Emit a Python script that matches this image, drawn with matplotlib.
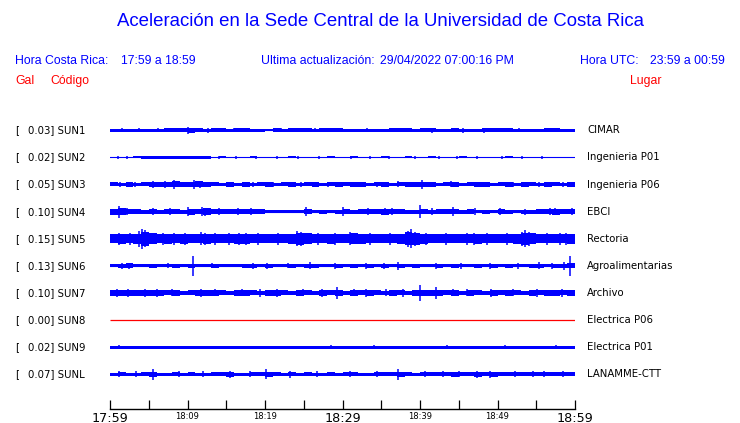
import numpy as np
import matplotlib
matplotlib.use("Agg")
import matplotlib.pyplot as plt
from matplotlib.transforms import blended_transform_factory

# ---------------- data ----------------
codes = ["SUN1", "SUN2", "SUN3", "SUN4", "SUN5", "SUN6", "SUN7", "SUN8", "SUN9", "SUNL"]
peak_gal = [0.03, 0.02, 0.05, 0.10, 0.15, 0.13, 0.10, 0.00, 0.02, 0.07]
places = ["CIMAR", "Ingenieria P01", "Ingenieria P06", "EBCI", "Rectoria",
          "Agroalimentarias", "Archivo", "Electrica P06", "Electrica P01", "LANAMME-CTT"]

# minutes after 17:59 ; tick labels every 5 min
tick_minutes = list(range(0, 61, 5))
tick_labels = ["17:59", "", "18:09", "", "18:19", "", "18:29", "", "18:39", "", "18:49", "", "18:59"]
big_labels = ["17:59", "18:29", "18:59"]

# per-minute envelope (half amplitude, display px)
env_sun1 = [1.4, 1.3, 1.7, 1.5, 1.7, 1.6, 1.5, 1.8, 1.8, 1.8, 2.3, 1.8, 1.7, 1.8, 1.8, 1.7, 1.8, 1.8,
            1.3, 1.4, 1.2, 1.8, 1.7, 1.8, 1.8, 1.8, 1.7, 1.8, 1.8, 1.8, 1.3, 1.5, 1.4, 1.6, 1.3, 1.7,
            1.8, 1.8, 1.8, 1.7, 1.8, 1.8, 1.7, 1.6, 1.8, 1.4, 1.5, 1.3, 1.8, 1.8, 1.8, 1.8, 1.7, 1.4,
            1.3, 1.5, 1.8, 1.8, 1.4, 1.7]
env_sun2 = [0.5, 0.8, 0.6, 0.9, 1.3, 1.4, 1.3, 1.4, 1.4, 1.4, 1.4, 1.4, 1.3, 0.5, 0.9, 0.6, 0.8, 0.5,
            0.9, 0.7, 0.5, 0.8, 0.6, 0.9, 0.5, 0.7, 0.8, 0.5, 0.9, 0.6, 0.7, 0.9, 0.6, 0.8, 0.5, 0.9,
            0.6, 0.7, 0.9, 0.5, 0.8, 0.9, 0.6, 0.8, 0.5, 0.9, 0.5, 0.7, 0.8, 0.6, 0.5, 0.9, 0.6, 0.8,
            0.7, 0.5, 0.8, 0.5, 0.5, 0.5]
env_sun3 = [2.0, 1.8, 2.1, 1.8, 2.0, 2.6, 2.8, 2.5, 3.0, 2.7, 2.6, 3.0, 2.5, 2.0, 1.9, 2.2, 1.9, 2.1,
            1.9, 2.0, 2.2, 1.9, 2.0, 2.1, 1.9, 2.0, 2.2, 1.9, 2.0, 2.1, 2.0, 2.1, 2.2, 1.9, 2.0, 2.2,
            1.9, 2.0, 2.1, 2.3, 2.6, 2.1, 1.9, 2.0, 2.2, 1.9, 2.0, 2.1, 2.2, 1.9, 2.0, 2.1, 1.9, 2.2,
            2.0, 1.9, 2.1, 2.0, 1.9, 2.1]
env_sun4 = [3.0, 3.2, 2.8, 2.2, 1.9, 2.4, 2.0, 2.6, 2.2, 2.0, 3.0, 2.4, 3.2, 2.6, 2.4, 2.8, 2.3, 2.6,
            2.2, 2.5, 1.7, 1.7, 1.8, 1.7, 1.7, 2.6, 1.8, 2.0, 1.7, 1.9, 2.8, 1.9, 2.1, 2.6, 2.8, 2.9,
            2.7, 2.4, 1.9, 2.0, 2.3, 2.0, 2.4, 2.6, 2.5, 1.9, 2.1, 1.8, 2.0, 1.8, 2.2, 1.9, 1.8, 2.0,
            1.9, 2.1, 2.6, 3.1, 2.3, 2.4]
env_sun5 = [4.6, 4.8, 4.5, 5.2, 6.8, 5.4, 4.6, 4.8, 4.4, 4.9, 4.6, 4.5, 5.0, 4.7, 4.4, 4.6, 4.8, 5.1,
            4.6, 4.5, 4.7, 4.4, 4.6, 5.0, 6.2, 5.3, 4.6, 4.5, 4.8, 4.4, 4.7, 5.6, 4.8, 4.5, 4.6, 4.4,
            4.7, 5.0, 6.6, 6.0, 4.8, 4.5, 4.6, 4.4, 4.7, 4.5, 4.6, 4.9, 4.5, 4.4, 4.6, 4.5, 4.8, 6.2,
            5.6, 4.6, 4.5, 4.7, 4.6, 4.8]
env_sun6 = [1.6, 2.2, 2.4, 1.6, 1.5, 1.7, 1.5, 1.6, 1.8, 1.5, 1.7, 1.6, 1.5, 1.8, 1.5, 1.6, 1.5, 1.7,
            2.0, 1.6, 2.1, 1.5, 1.6, 1.8, 1.5, 1.7, 2.2, 1.6, 1.5, 1.9, 1.5, 1.7, 1.6, 2.0, 1.5, 1.7,
            1.5, 2.2, 1.6, 1.7, 1.5, 1.6, 1.9, 1.5, 1.7, 1.6, 1.5, 1.8, 1.6, 2.0, 1.5, 1.7, 1.6, 1.5,
            1.8, 2.1, 1.6, 1.7, 2.3, 2.6]
env_sun7 = [2.8, 3.0, 3.2, 2.7, 3.1, 2.9, 2.6, 2.5, 2.8, 2.4, 2.5, 2.9, 2.6, 2.8, 2.5, 2.4, 2.6, 2.8,
            2.5, 2.4, 2.6, 2.9, 2.5, 2.4, 2.6, 2.5, 2.4, 2.6, 2.5, 2.8, 2.4, 2.6, 2.5, 2.8, 2.5, 2.4,
            2.6, 2.5, 2.4, 2.7, 3.0, 2.6, 2.9, 2.5, 2.6, 2.4, 2.7, 2.5, 2.4, 2.6, 2.5, 2.7, 2.5, 2.4,
            2.6, 2.5, 2.7, 2.6, 2.5, 2.8]
env_sun8 = [0.0] * 60
env_sun9 = [1.45] * 60
env_sunl = [1.6, 2.2, 1.7, 1.6, 2.0, 2.4, 1.7, 1.6, 1.9, 1.6, 2.0, 1.7, 1.6, 1.8, 2.2, 2.3, 1.7, 1.6,
            1.9, 2.2, 2.6, 2.0, 1.7, 2.1, 1.6, 1.8, 1.7, 1.6, 1.9, 1.7, 1.8, 2.1, 1.7, 1.6, 2.0, 1.8,
            2.2, 2.5, 1.9, 1.7, 2.0, 1.8, 2.2, 1.9, 2.4, 2.2, 2.0, 2.3, 2.1, 2.5, 2.0, 1.9, 2.2, 1.8,
            2.0, 1.9, 2.1, 1.8, 1.9, 2.0]

# isolated peaks: (minute, half amplitude px)
peaks_sun1 = [(1.6, 2.1), (3.8, 2.2), (6.2, 2.1), (10.0, 3.3), (10.5, 2.7), (12.7, 2.6), (16.0, 2.1),
              (22.0, 2.1), (26.4, 2.1), (33.2, 2.1), (37.5, 2.1), (41.6, 2.6), (45.5, 2.4), (48.2, 2.4),
              (52.8, 2.1), (57.0, 2.1)]
peaks_sun2 = [(1.0, 1.4), (2.2, 1.4), (14.1, 1.4), (16.3, 1.4), (18.8, 1.4), (21.5, 1.4), (24.2, 1.4),
              (27.0, 1.4), (31.1, 1.4), (33.5, 1.4), (36.0, 1.4), (39.4, 1.4), (42.5, 1.4), (44.8, 1.4),
              (47.3, 1.4), (50.6, 1.4), (53.1, 1.4), (55.7, 1.4)]
peaks_sun3 = [(1.3, 2.8), (3.2, 2.7), (5.6, 3.3), (7.1, 3.5), (8.2, 4.2), (10.9, 4.2), (11.6, 3.2),
              (15.3, 2.8), (18.4, 2.7), (21.0, 2.8), (24.6, 2.7), (28.1, 2.8), (31.5, 2.7), (34.4, 2.8),
              (37.2, 3.0), (40.2, 4.3), (44.0, 3.0), (47.6, 2.8), (52.0, 2.9), (55.3, 2.7), (58.4, 2.8)]
peaks_sun4 = [(1.2, 6.0), (2.2, 3.8), (5.5, 3.2), (7.8, 3.4), (10.1, 4.6), (11.9, 4.5), (12.3, 4.0),
              (14.0, 3.6), (16.5, 3.6), (18.2, 3.4), (25.3, 4.2), (30.0, 4.6), (33.3, 3.4), (35.5, 3.8),
              (36.4, 3.6), (40.0, 6.2), (41.5, 3.4), (44.2, 4.2), (47.1, 3.2), (50.3, 3.2), (53.6, 3.0),
              (56.8, 3.6), (57.4, 3.8), (59.6, 3.2)]
peaks_sun5 = [(1.1, 6.0), (2.6, 6.2), (3.7, 8.0), (4.1, 10.0), (4.5, 8.5), (6.9, 6.0), (8.2, 6.2),
              (9.7, 5.8), (11.8, 6.4), (12.3, 6.0), (13.6, 5.8), (15.3, 6.2), (16.6, 5.8), (17.5, 6.0),
              (19.1, 6.2), (21.7, 5.8), (24.1, 7.5), (24.6, 6.8), (26.9, 6.0), (29.0, 5.8), (31.0, 6.5),
              (33.5, 6.0), (36.1, 5.8), (38.4, 8.2), (38.8, 9.5), (39.3, 7.2), (40.8, 6.0), (43.4, 5.8),
              (46.0, 6.2), (47.0, 5.8), (48.6, 6.0), (51.2, 5.8), (53.2, 7.0), (53.6, 8.5), (54.1, 6.8),
              (56.4, 6.0), (58.0, 6.0), (58.9, 5.8)]
peaks_sun6 = [(1.5, 3.0), (2.5, 3.2), (7.5, 2.6), (10.75, 10.3), (13.2, 2.6), (18.5, 3.0), (20.3, 3.2),
              (23.0, 2.6), (25.8, 3.5), (29.0, 3.0), (33.0, 3.0), (35.4, 2.7), (37.2, 4.0), (42.0, 3.0),
              (45.3, 2.7), (49.0, 3.2), (52.7, 2.8), (55.4, 3.5), (57.0, 3.0), (58.6, 4.0), (59.3, 10.0)]
peaks_sun7 = [(0.9, 3.8), (2.3, 4.0), (4.5, 4.2), (6.1, 3.6), (8.0, 3.5), (11.8, 4.0), (13.5, 3.5),
              (17.0, 3.5), (19.4, 3.6), (21.6, 4.0), (24.9, 3.5), (27.4, 3.6), (29.3, 6.0), (31.5, 3.5),
              (33.0, 3.8), (35.6, 3.5), (37.8, 3.6), (40.0, 8.3), (42.0, 6.2), (44.3, 3.5), (46.0, 3.5),
              (49.2, 3.6), (52.0, 3.5), (55.1, 3.6), (58.3, 3.8)]
peaks_sun8 = []
peaks_sun9 = [(1.2, 2.0), (28.5, 2.0), (34.0, 2.2), (43.5, 2.0), (51.0, 2.0), (57.5, 2.0)]
peaks_sunl = [(1.1, 3.2), (3.4, 3.0), (5.6, 5.7), (8.9, 3.0), (12.0, 3.2), (15.5, 3.5), (18.0, 3.0),
              (20.1, 5.0), (23.2, 3.5), (26.7, 3.0), (31.0, 3.0), (34.4, 3.2), (37.1, 5.3), (40.6, 3.0),
              (43.0, 3.2), (45.0, 3.2), (47.3, 3.4), (49.0, 3.5), (52.3, 3.0), (54.6, 3.2), (56.0, 3.0),
              (58.5, 3.0)]

envelopes = [env_sun1, env_sun2, env_sun3, env_sun4, env_sun5, env_sun6, env_sun7, env_sun8, env_sun9, env_sunl]
peaks = [peaks_sun1, peaks_sun2, peaks_sun3, peaks_sun4, peaks_sun5, peaks_sun6, peaks_sun7, peaks_sun8,
         peaks_sun9, peaks_sunl]

# ---------------- style / layout ----------------
W, H = 740, 423
BLUE = "#0000ff"
RED = "#ff0000"
SPACING_PX = 27.1  # vertical distance between traces
fig = plt.figure(figsize=(W / 100, H / 100), dpi=100)

def fx(px):
    return px / W

def fy(py):
    return 1 - py / H

ax_left, ax_right = 110, 575
top_px = 130.3 - SPACING_PX / 2
bot_px = top_px + SPACING_PX * len(codes)
ax = fig.add_axes([fx(ax_left), fy(bot_px), (ax_right - ax_left) / W, (bot_px - top_px) / H])
ax.set_xlim(0, 60)
ax.set_ylim(len(codes) - 0.5, -0.5)
ax.axis("off")

edges = np.arange(61)
for i, (env, pk) in enumerate(zip(envelopes, peaks)):
    a = np.array(env + [env[-1]]) / SPACING_PX
    if codes[i] == "SUN8":
        ax.plot([0, 60], [i, i], color=RED, lw=0.9, solid_capstyle="butt")
        continue
    ax.fill_between(edges, i - a, i + a, step="post", color=BLUE, lw=0, antialiased=False)
    ax.plot([0, 60], [i, i], color=BLUE, lw=0.8)
    if pk:
        t = [p[0] for p in pk]
        h = np.array([p[1] for p in pk]) / SPACING_PX
        ax.vlines(t, i - h, i + h, color=BLUE, lw=1.1)

# labels next to traces
tr = blended_transform_factory(fig.transFigure, ax.transData)
for i in range(len(codes)):
    ax.text(fx(15), i, "[", transform=tr, fontsize=7.3, va="center", ha="left",
            family="DejaVu Sans", color="black")
    ax.text(fx(28), i, f"{peak_gal[i]:.2f}] {codes[i]}", transform=tr, fontsize=7.3,
            va="center", ha="left", family="DejaVu Sans", color="black")
    ax.text(fx(587), i, places[i], transform=tr, fontsize=7.3, va="center", ha="left",
            family="DejaVu Sans", color="black")

# time axis
tax = fig.add_axes([fx(ax_left), fy(409), (ax_right - ax_left) / W, 0.001])
tax.set_xlim(0, 60)
tax.set_ylim(0, 1)
for s in ["top", "left", "right"]:
    tax.spines[s].set_visible(False)
tax.spines["bottom"].set_linewidth(1.0)
tax.set_yticks([])
tax.set_xticks(tick_minutes)
tax.set_xticklabels([])
tax.tick_params(axis="x", direction="in", length=6.8, width=0.9, color="black")
ttr = blended_transform_factory(tax.transData, fig.transFigure)
for m, lab in zip(tick_minutes, tick_labels):
    if not lab:
        continue
    big = lab in big_labels
    tax.text(m, fy(411.5), lab, transform=ttr, fontsize=9.2 if big else 6.0,
             ha="center", va="top", family="DejaVu Sans", color="black")

# header
fig.text(fx(381), fy(22), "Aceleración en la Sede Central de la Universidad de Costa Rica",
         ha="center", va="center", fontsize=13.4, color=BLUE, family="Liberation Sans")
hdr = dict(fontsize=8.8, color=BLUE, family="Liberation Sans", va="center")
fig.text(fx(15), fy(61), "Hora Costa Rica:", ha="left", **hdr)
fig.text(fx(121.5), fy(61), "17:59 a 18:59", ha="left", **hdr)
fig.text(fx(261), fy(61), "Ultima actualización:", ha="left", **hdr)
fig.text(fx(380), fy(61), "29/04/2022 07:00:16 PM", ha="left", **hdr)
fig.text(fx(580.5), fy(61), "Hora UTC:", ha="left", **hdr)
fig.text(fx(650), fy(61), "23:59 a 00:59", ha="left", **hdr)
red = dict(fontsize=8.8, color=RED, family="Liberation Sans", va="center")
fig.text(fx(15), fy(81), "Gal", ha="left", **red)
fig.text(fx(50), fy(81), "Código", ha="left", **red)
fig.text(fx(630), fy(81), "Lugar", ha="left", **red)

fig.savefig("out.png", dpi=100)
